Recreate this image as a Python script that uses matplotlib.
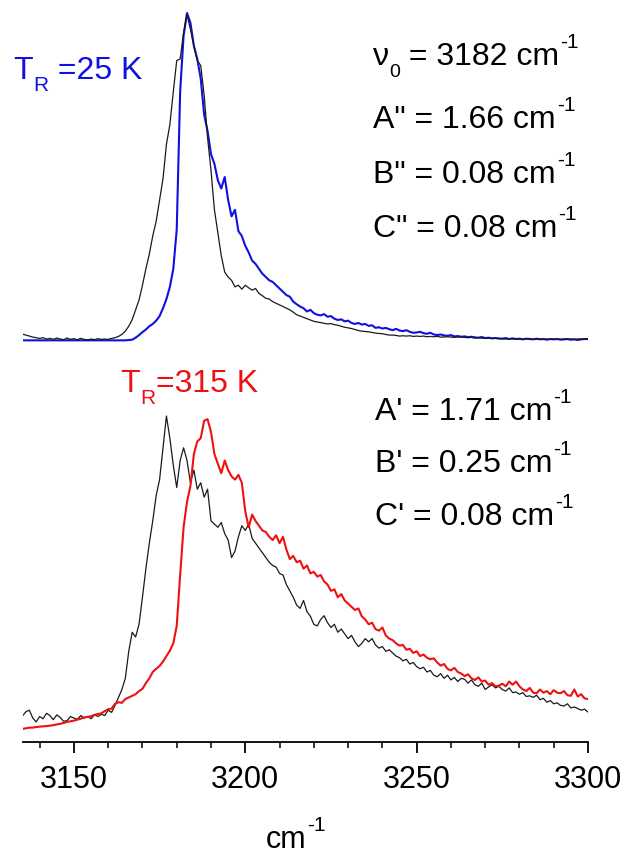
import numpy as np
import matplotlib
matplotlib.use("Agg")
import matplotlib.pyplot as plt

plt.rcParams['font.family'] = ['Liberation Sans', 'DejaVu Sans']

# wavenumber grid (cm^-1)
wavenumber = list(range(3135, 3301))

# Top panel (T_R = 25 K)
top_black = [
    .021, .018, .015, .012, .010, .008, .010, .006, .008, .005,   # 3135-3144
    .009, .006, .004, .009, .005, .007, .004, .008, .005, .003,   # 3145-3154
    .006, .004, .007, .005, .006, .005, .008, .010, .014, .020,   # 3155-3164
    .030, .045, .065, .095, .125, .170, .220, .265, .320, .365,   # 3165-3174
    .430, .495, .600, .660, .760, .855, .860, .940, .995, .950,   # 3175-3184
    .900, .855, .840, .750, .620, .520, .400, .330, .260, .210,   # 3185-3194
    .195, .185, .165, .170, .158, .170, .162, .155, .160, .145,   # 3195-3204
    .138, .130, .128, .120, .115, .110, .105, .100, .095, .088,   # 3205-3214
    .080, .076, .072, .068, .064, .060, .058, .056, .054, .052,   # 3215-3224
    .053, .050, .048, .045, .042, .040, .038, .035, .032, .030,   # 3225-3234
    .029, .028, .026, .024, .023, .022, .020, .018, .018, .017,   # 3235-3244
    .015, .016, .015, .016, .014, .015, .014, .015, .013, .014,   # 3245-3254
    .013, .014, .012, .012, .013, .012, .011, .012, .012, .011,   # 3255-3264
    .010, .011, .009, .010, .009, .008, .009, .008, .008, .007,   # 3265-3274
    .007, .006, .007, .006, .007, .006, .006, .007, .006, .005,   # 3275-3284
    .006, .006, .005, .006, .005, .006, .006, .005, .006, .005,   # 3285-3294
    .006, .005, .006, .006, .005, .006,                           # 3295-3300
]
top_blue = [
    .002, .002, .002, .002, .002, .002, .002, .002, .002, .002,   # 3135-3144
    .002, .002, .002, .002, .002, .002, .002, .002, .002, .002,   # 3145-3154
    .002, .002, .002, .002, .002, .002, .002, .002, .002, .002,   # 3155-3164
    .002, .003, .004, .010, .018, .027, .035, .045, .052, .062,   # 3165-3174
    .076, .100, .128, .165, .220, .340, .760, .930, 1.00, .970,   # 3175-3184
    .900, .860, .800, .690, .640, .570, .540, .490, .465, .500,   # 3185-3194
    .430, .380, .400, .335, .320, .290, .270, .245, .235, .220,   # 3195-3204
    .205, .195, .185, .180, .170, .160, .150, .140, .135, .120,   # 3205-3214
    .112, .105, .100, .090, .095, .085, .080, .078, .082, .074,   # 3215-3224
    .076, .068, .064, .066, .060, .062, .055, .052, .055, .050,   # 3225-3234
    .052, .046, .048, .040, .042, .038, .040, .036, .033, .037,   # 3235-3244
    .032, .030, .033, .028, .025, .026, .028, .024, .022, .025,   # 3245-3254
    .020, .018, .020, .017, .016, .018, .014, .015, .013, .014,   # 3255-3264
    .012, .013, .011, .010, .012, .009, .010, .008, .009, .008,   # 3265-3274
    .007, .009, .006, .008, .006, .007, .005, .007, .006, .005,   # 3275-3284
    .007, .005, .006, .004, .006, .005, .006, .004, .005, .006,   # 3285-3294
    .004, .005, .003, .005, .006, .006,                           # 3295-3300
]

# Bottom panel (T_R = 315 K)
bottom_black = [
    .057, .070, .075, .050, .038, .055, .048, .065, .058, .045,   # 3135-3144
    .060, .052, .040, .042, .055, .050, .046, .058, .050, .055,   # 3145-3154
    .048, .060, .055, .062, .058, .075, .068, .090, .115, .140,   # 3155-3164
    .175, .260, .320, .305, .345, .430, .520, .600, .670, .750,   # 3165-3174
    .800, .900, 1.00, .930, .845, .775, .860, .900, .860, .790,   # 3175-3184
    .830, .770, .790, .745, .770, .670, .660, .650, .665, .630,   # 3185-3194
    .610, .555, .575, .620, .655, .640, .660, .615, .600, .585,   # 3195-3204
    .570, .555, .540, .530, .525, .505, .500, .470, .450, .430,   # 3205-3214
    .405, .395, .420, .385, .370, .345, .340, .360, .372, .350,   # 3215-3224
    .335, .345, .320, .330, .315, .300, .310, .290, .275, .285,   # 3225-3234
    .300, .290, .300, .280, .270, .275, .260, .265, .255, .245,   # 3235-3244
    .240, .230, .235, .220, .225, .212, .205, .210, .195, .200,   # 3245-3254
    .185, .180, .190, .175, .185, .170, .178, .165, .175, .172,   # 3255-3264
    .160, .170, .155, .150, .160, .140, .148, .155, .145, .150,   # 3265-3274
    .140, .135, .145, .130, .132, .125, .130, .118, .120, .115,   # 3275-3284
    .122, .108, .112, .100, .105, .095, .098, .090, .088, .095,   # 3285-3294
    .082, .085, .080, .075, .078, .069,                           # 3295-3300
]
bottom_red = [
    .016, .018, .020, .020, .022, .023, .024, .025, .026, .028,   # 3135-3144
    .030, .032, .035, .038, .040, .042, .045, .048, .052, .054,   # 3145-3154
    .056, .060, .063, .065, .072, .078, .080, .095, .100, .098,   # 3155-3164
    .110, .115, .120, .125, .135, .142, .160, .175, .195, .205,   # 3165-3174
    .214, .228, .245, .262, .285, .340, .500, .650, .730, .780,   # 3175-3184
    .880, .920, .930, .985, .990, .950, .880, .850, .820, .860,   # 3185-3194
    .830, .810, .800, .815, .790, .700, .650, .690, .670, .655,   # 3195-3204
    .640, .635, .620, .610, .625, .600, .620, .580, .550, .560,   # 3205-3214
    .540, .545, .520, .530, .505, .510, .495, .500, .480, .470,   # 3215-3224
    .450, .455, .430, .440, .420, .410, .400, .390, .395, .370,   # 3225-3234
    .360, .345, .350, .330, .325, .335, .310, .300, .295, .285,   # 3235-3244
    .278, .280, .265, .268, .255, .260, .245, .250, .240, .235,   # 3245-3254
    .238, .225, .215, .220, .205, .200, .208, .195, .190, .182,   # 3255-3264
    .188, .175, .170, .178, .165, .168, .155, .160, .150, .152,   # 3265-3274
    .158, .150, .165, .155, .165, .150, .140, .135, .145, .130,   # 3275-3284
    .128, .140, .130, .135, .125, .138, .130, .128, .135, .122,   # 3285-3294
    .120, .140, .118, .125, .112, .110,                           # 3295-3300
]

xticks_major = [3150, 3200, 3250, 3300]
xticks_minor = [3140, 3160, 3170, 3180, 3190, 3210, 3220, 3230, 3240,
                3260, 3270, 3280, 3290]

W, H = 628, 854
fig = plt.figure(figsize=(W / 100, H / 100), dpi=100)
renderer = fig.canvas.get_renderer()

x0 = 22.5 / W
wid = (588 - 22.5) / W

BLUE = '#1010e0'
RED = '#ee1111'
BLACK = '#1a1a1a'

# bottom axes (with x axis)
axb = fig.add_axes([x0, (H - 743) / H, wid, 343 / H])
axb.plot(wavenumber, bottom_black, color=BLACK, lw=0.9)
axb.plot(wavenumber, bottom_red, color=RED, lw=1.5)
axb.set_xlim(3135, 3300)
axb.set_ylim(-8 / 318, 335 / 318)
for s in ['top', 'left', 'right']:
    axb.spines[s].set_visible(False)
axb.spines['bottom'].set_linewidth(1.3)
axb.set_yticks([])
axb.set_xticks(xticks_major)
axb.set_xticks(xticks_minor, minor=True)
axb.tick_params(axis='x', which='major', length=8, width=1.3, labelsize=22, pad=8,
                direction='out')
axb.tick_params(axis='x', which='minor', length=4.5, width=1.1, direction='out')
axb.patch.set_alpha(0)

# top axes (no axis)
axt = fig.add_axes([x0, (H - 360) / H, wid, 360 / H])
axt.plot(wavenumber, top_blue, color=BLUE, lw=1.5)
axt.plot(wavenumber, top_black, color=BLACK, lw=0.9)
axt.set_xlim(3135, 3300)
axt.set_ylim(-18 / 328, 342 / 328)
axt.axis('off')

FS = 23
SUP = 15


def rich(px, py, segs, color='black', ha='left'):
    """segs: list of (text, fontsize, dy_px(up), gap_px_before)"""
    # measure total width first
    items = []
    x = 0.0
    for s, size, dy, gap in segs:
        x += gap
        t = fig.text(0, 0, s, fontsize=size, color=color, va='baseline', ha='left')
        w = t.get_window_extent(renderer=renderer).width
        items.append((t, x, dy))
        x += w
    start = px if ha == 'left' else px - x / 2
    for t, xo, dy in items:
        t.set_position(((start + xo) / W, (H - py + dy) / H))


def param_line(px, py, s):
    rich(px, py, [(s, FS, 0, 0), ('-1', SUP, 17, 1)])


rich(13, 79, [('T', FS, 0, 0), ('R', 15, -12, 1), (' =25 K', FS, 0, 0)], color=BLUE)
rich(120, 392, [('T', FS, 0, 0), ('R', 15, -12, 1), ('=315 K', FS, 0, 0)], color=RED)

rich(373, 65, [('\u03bd', FS, 0, 0), ('0', 14, -12, 0), (' = 3182 cm', FS, 0, 0),
               ('-1', SUP, 17, 1)])
param_line(373, 128, 'A" = 1.66 cm')
param_line(373, 183, 'B" = 0.08 cm')
param_line(373, 237, 'C" = 0.08 cm')

param_line(375, 420, "A' = 1.71 cm")
param_line(375, 472, "B' = 0.25 cm")
param_line(375, 525, "C' = 0.08 cm")

rich(296, 848, [('cm', 22, 0, 0), ('-1', 15, 17, 1)], ha='center')

fig.savefig('out.png', dpi=100)
